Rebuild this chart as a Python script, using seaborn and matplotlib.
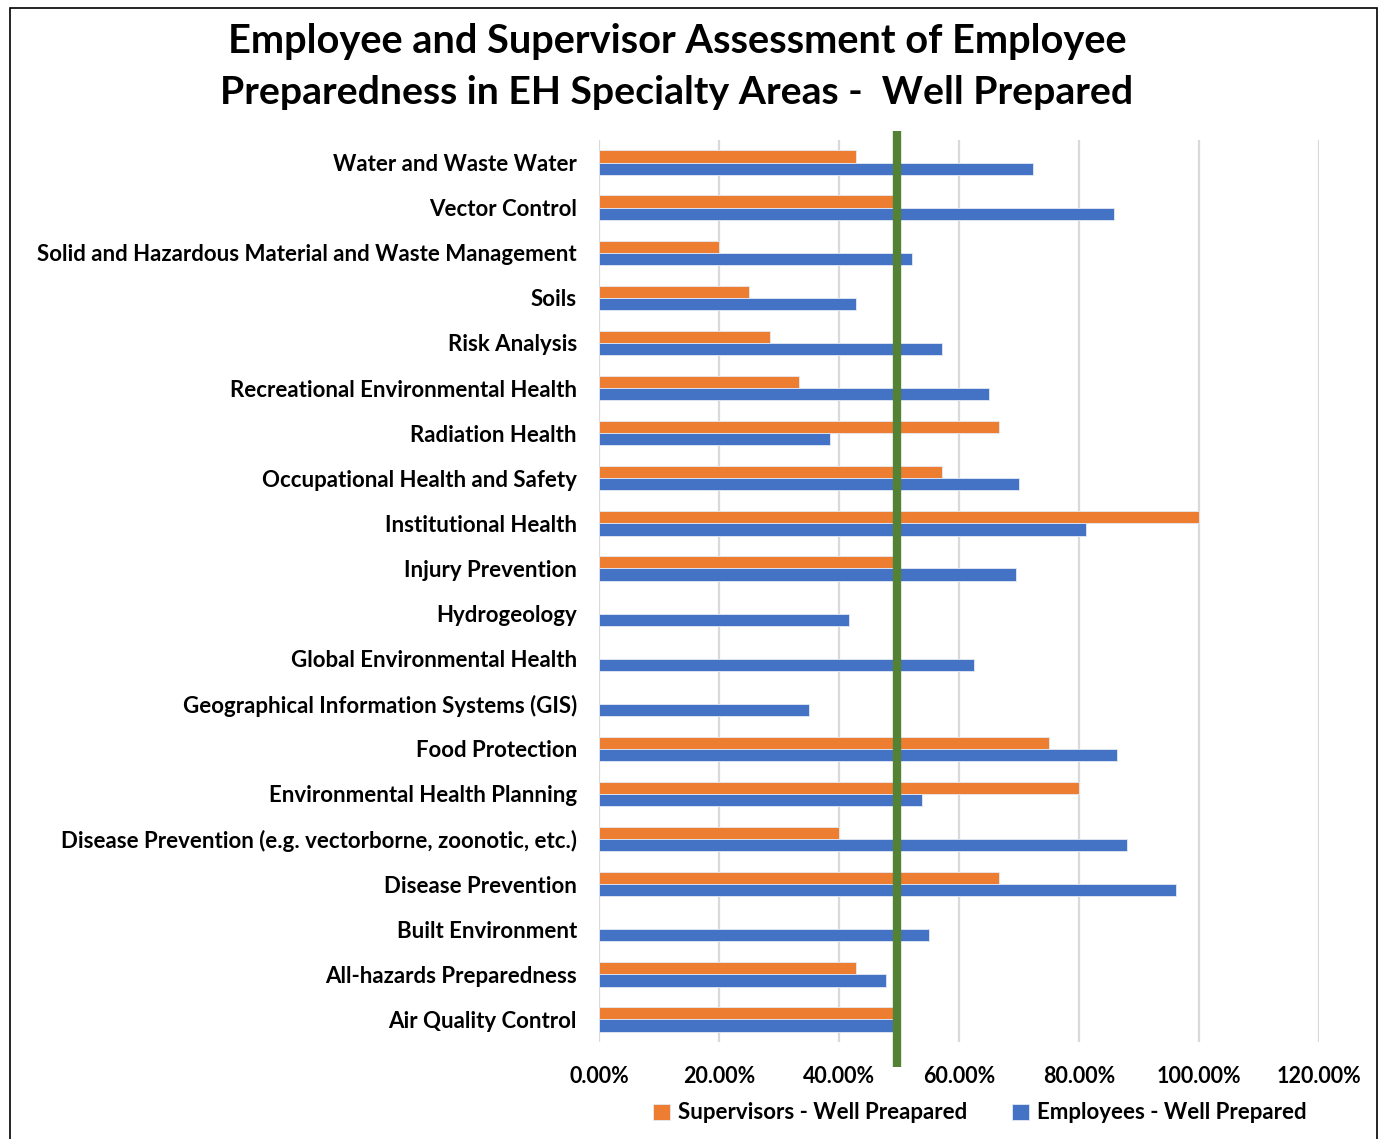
import numpy as np
import pandas as pd
import matplotlib
matplotlib.use("Agg")
import matplotlib.pyplot as plt
import seaborn as sns
from matplotlib.patches import Rectangle
from matplotlib.ticker import FuncFormatter

categories = [
    "Water and Waste Water",
    "Vector Control",
    "Solid and Hazardous Material and Waste Management",
    "Soils",
    "Risk Analysis",
    "Recreational Environmental Health",
    "Radiation Health",
    "Occupational Health and Safety",
    "Institutional Health",
    "Injury Prevention",
    "Hydrogeology",
    "Global Environmental Health",
    "Geographical Information Systems (GIS)",
    "Food Protection",
    "Environmental Health Planning",
    "Disease Prevention (e.g. vectorborne, zoonotic, etc.)",
    "Disease Prevention",
    "Built Environment",
    "All-hazards Preparedness",
    "Air Quality Control",
]

supervisors = [0.4286, 0.50, 0.20, 0.25, 0.2857, 0.3333, 0.6667, 0.5714, 1.00, 0.50,
               np.nan, np.nan, np.nan, 0.75, 0.80, 0.40, 0.6667, np.nan, 0.4286, 0.50]
employees = [0.723, 0.858, 0.521, 0.428, 0.571, 0.650, 0.385, 0.700, 0.812, 0.695,
             0.416, 0.625, 0.350, 0.864, 0.539, 0.880, 0.962, 0.550, 0.478, 0.495]

series_names = ["Supervisors - Well Preapared", "Employees - Well Prepared"]
series_colors = ["#ED7D31", "#4472C4"]
benchmark = 0.496

df = pd.DataFrame({
    "Area": categories * 2,
    "Series": [series_names[0]] * len(categories) + [series_names[1]] * len(categories),
    "Value": supervisors + employees,
})

sns.set_theme(style="white")
plt.rcParams["font.family"] = ["Lato", "DejaVu Sans"]
plt.rcParams["font.weight"] = "bold"
plt.rcParams["text.color"] = "black"

fig = plt.figure(figsize=(13.82, 11.39), dpi=100)
ax = fig.add_axes([599 / 1382, 1 - 1042 / 1139, 720 / 1382, 902 / 1139])

sns.barplot(data=df, y="Area", x="Value", hue="Series", order=categories,
            hue_order=series_names, palette=series_colors, saturation=1,
            orient="h", width=0.54, ax=ax, edgecolor="#e4eaf5", linewidth=0.6,
            legend=True)

ax.set_xlim(0, 1.2)
ax.set_xticks(np.arange(0, 1.21, 0.2))
ax.xaxis.set_major_formatter(FuncFormatter(lambda v, p: f"{v * 100:.2f}%"))
ax.grid(axis="x", color="#d9d9d9", linewidth=1.6)
ax.grid(axis="y", visible=False)
ax.set_axisbelow(True)
for s in ax.spines.values():
    s.set_visible(False)
ax.set_xlabel("")
ax.set_ylabel("")
ax.tick_params(axis="y", length=0, pad=16, labelsize=16)
ax.tick_params(axis="x", length=0, pad=17, labelsize=15.5)
for lbl in ax.get_xticklabels() + ax.get_yticklabels():
    lbl.set_fontweight("bold")
    lbl.set_color("black")

# Reference line at the benchmark level
ax.axvline(benchmark, ymin=-0.028, ymax=1.01, color="#548235", linewidth=6,
           solid_capstyle="butt", clip_on=False, zorder=5)

leg = ax.legend(loc="center", bbox_to_anchor=(0.529, -0.0787), ncol=2, frameon=False,
                handlelength=0.75, handleheight=0.75, handletextpad=0.35,
                columnspacing=2.05, prop={"weight": "bold", "size": 16})
for t in leg.get_texts():
    t.set_color("black")

fig.text(677 / 1382, 1 - 42 / 1139, "Employee and Supervisor Assessment of Employee",
         ha="center", va="center", fontsize=28.6, fontweight="bold", color="black")
fig.text(677 / 1382, 1 - 92 / 1139, "Preparedness in EH Specialty Areas -  Well Prepared",
         ha="center", va="center", fontsize=28.3, fontweight="bold", color="black")

fig.patches.append(Rectangle((10 / 1382, -0.01), 1367 / 1382, 1 - 8 / 1139 + 0.01,
                             transform=fig.transFigure, fill=False,
                             edgecolor="black", linewidth=1.2))

fig.savefig("out.png", dpi=100, facecolor="white")
